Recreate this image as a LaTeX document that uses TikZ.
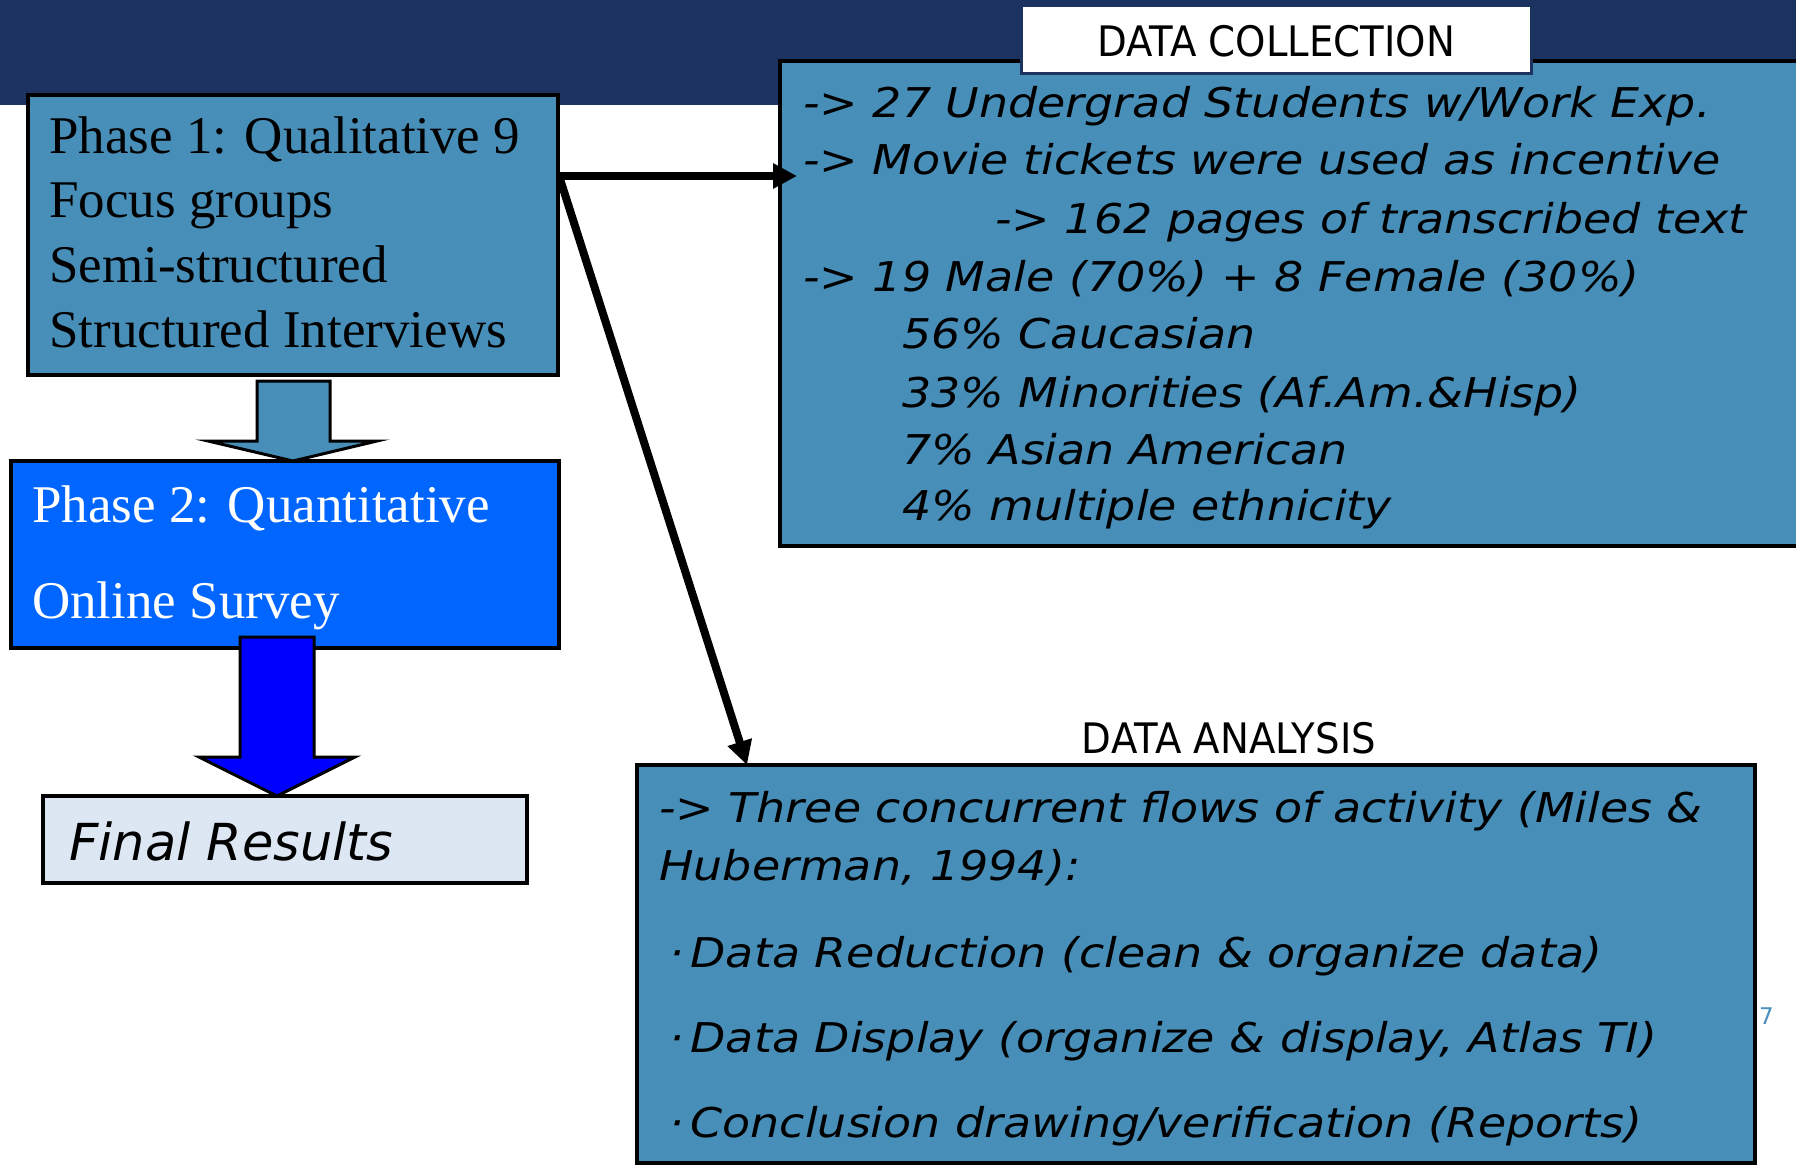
\documentclass[tikz,border=0pt]{standalone}
\usepackage{fontspec}
\setmainfont{Liberation Serif}
\newfontfamily\labelfont{DejaVu Sans}
\newfontfamily\headfont[FakeStretch=0.92]{DejaVu Sans}
\newfontfamily\notefont[FakeStretch=1.12]{DejaVu Sans}
\usetikzlibrary{arrows.meta,calc}

\definecolor{navy}{RGB}{28,50,96}
\definecolor{steel}{RGB}{71,143,185}
\definecolor{brightblue}{RGB}{0,102,255}
\definecolor{pureblue}{RGB}{0,0,255}
\definecolor{paleblue}{RGB}{220,231,243}
\definecolor{pagenum}{RGB}{74,143,192}

\begin{document}
\begin{tikzpicture}[x=1pt,y=-1pt,
  box/.style={draw=black,line width=4.5pt,inner sep=0pt,outer sep=0pt,anchor=north west},
  serifline/.style={anchor=base west,inner sep=0pt,font=\fontsize{53}{64}\selectfont},
  noteline/.style={anchor=base west,inner sep=0pt,font=\notefont\itshape\fontsize{41}{50}\selectfont},
  heading/.style={anchor=base,inner sep=0pt,font=\headfont\fontsize{42}{50}\selectfont},
  conn/.style={line width=8pt,-{Triangle[length=24pt,width=24pt]}},
  blockarrow/.style={draw=black,line width=3pt,line join=miter}
]
\useasboundingbox (0,0) rectangle (1796,1166);
\clip (0,0) rectangle (1796,1166);

% title band
\fill[navy] (0,0) rectangle (1796,105);

% left column: phases
\node[box,fill=steel,minimum width=530pt,minimum height=280pt] (p1) at (28,95) {};
\node[serifline] (p1a) at (49,154) {Phase 1: Qualitative 9};
\node[serifline] (p1b) at (49,218) {Focus groups};
\node[serifline] (p1c) at (49,283) {Semi-structured};
\node[serifline] (p1d) at (49,347) {Structured Interviews};

\node[box,fill=brightblue,minimum width=548pt,minimum height=187pt] (p2) at (11,461) {};
\node[serifline,text=white] (p2a) at (32,522) {Phase 2: Quantitative};
\node[serifline,text=white] (p2b) at (32,618) {Online Survey};

\draw[blockarrow,fill=steel] (257,381) -- (330,381) -- (330,441) -- (377,441)
  -- (293,461) -- (208,441) -- (257,441) -- cycle;

\node[box,fill=paleblue,minimum width=484pt,minimum height=87pt] (fr) at (43,796) {};
\node[anchor=base west,inner sep=0pt,font=\labelfont\itshape\fontsize{51}{60}\selectfont] (frt) at (69,860) {Final Results};

\draw[blockarrow,fill=pureblue] (240,637) -- (314,637) -- (314,757) -- (355,757)
  -- (277,796) -- (199,757) -- (240,757) -- cycle;

% data collection
\node[box,fill=steel,minimum width=1030pt,minimum height=485pt] (dc) at (780,61) {};
\node[draw=navy,fill=white,line width=3pt,inner sep=0pt,outer sep=0pt,anchor=north west,
  minimum width=510pt,minimum height=68pt] (dclab) at (1021,6) {};
\node[heading] (dct) at (1276,57) {DATA COLLECTION};
\node[noteline] (dc1) at (803,118) {-> 27 Undergrad Students w/Work Exp.};
\node[noteline] (dc2) at (803,175) {-> Movie tickets were used as incentive};
\node[noteline] (dc3) at (995,234) {-> 162 pages of transcribed text};
\node[noteline] (dc4) at (803,291) {-> 19 Male (70\%) + 8 Female (30\%)};
\node[noteline] (dc5) at (902,348) {56\% Caucasian};
\node[noteline] (dc6) at (902,407) {33\% Minorities (Af.Am.\&Hisp)};
\node[noteline] (dc7) at (902,464) {7\% Asian American};
\node[noteline] (dc8) at (902,520) {4\% multiple ethnicity};

% data analysis
\node[heading] (dat) at (1229,753) {DATA ANALYSIS};
\node[box,fill=steel,minimum width=1118pt,minimum height=398pt] (da) at (637,765) {};
\node[noteline] (da1) at (659,822) {-> Three concurrent flows of activity (Miles \&};
\node[noteline] (da2) at (659,880) {Huberman, 1994):};
\node[noteline] (da3) at (669,967) {·\,Data Reduction (clean \& organize data)};
\node[noteline] (da4) at (669,1052) {·\,Data Display (organize \& display, Atlas TI)};
\node[noteline] (da5) at (669,1137) {·\,Conclusion drawing/verification (Reports)};

\node[anchor=base west,inner sep=0pt,text=pagenum,font=\labelfont\fontsize{23}{28}\selectfont] (pg) at (1759,1024) {7};

% connectors from phase 1
\coordinate (src) at ($(p1.north east)+(0,81)$);
\coordinate (dcin) at ($(dc.west |- src)+(17,0)$);
\coordinate (dain) at ($(da.north west)+(110,0)$);
\draw[conn] (src) -- (dcin);
\draw[conn] ($(src)+(2,3)$) -- (dain);
\end{tikzpicture}
\end{document}
